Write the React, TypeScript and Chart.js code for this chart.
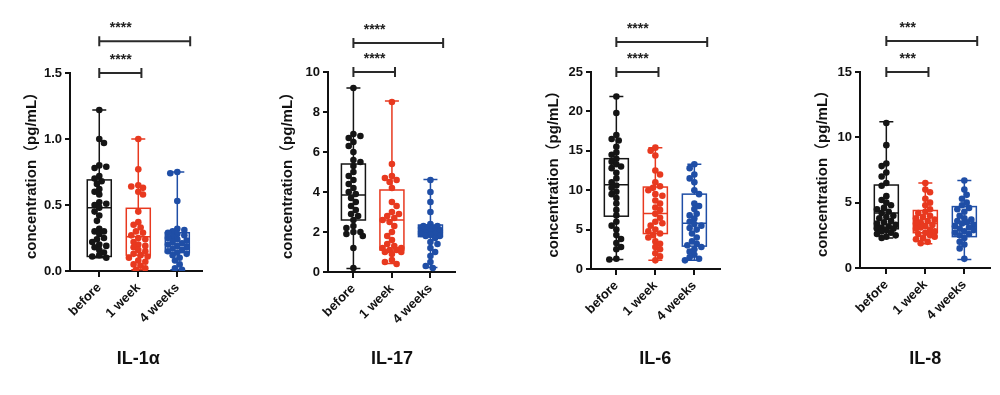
import React, { useEffect, useRef } from "react";
import { Chart, registerables } from "chart.js";
Chart.register(...registerables);

// ---------- data ----------
const groups = ["before", "1 week", "4 weeks"];
const panelTitles = ["IL-1α", "IL-17", "IL-6", "IL-8"];
const yTitle = "concentration（pg/mL）";
const yMax = [1.5, 10, 25, 15];
const yStep = [0.5, 2, 5, 5];
const yDecimals = [1, 0, 0, 0];
const sigLabels = [["****", "****"], ["****", "****"], ["****", "****"], ["***", "***"]];
const bracketLevels = [[1.5, 1.74], [10, 11.45], [25, 28.8], [15, 17.37]];
const bracketEnds = [1.08, 2.33];

// IL-1α
const il1aBefore = [1.22, 1.0, 0.97, 0.8, 0.79, 0.78, 0.72, 0.7, 0.68, 0.66, 0.62, 0.6, 0.58, 0.52, 0.51, 0.5, 0.48, 0.45, 0.42, 0.38, 0.32, 0.3, 0.3, 0.28, 0.25, 0.24, 0.22, 0.2, 0.19, 0.18, 0.16, 0.14, 0.12, 0.11, 0.1];
const il1aWeek1 = [1.0, 0.77, 0.65, 0.64, 0.63, 0.6, 0.58, 0.45, 0.37, 0.35, 0.33, 0.3, 0.29, 0.27, 0.25, 0.24, 0.22, 0.2, 0.19, 0.18, 0.16, 0.15, 0.13, 0.12, 0.11, 0.1, 0.08, 0.07, 0.05, 0.04, 0.02, 0.01];
const il1aWeek4 = [0.75, 0.74, 0.53, 0.32, 0.31, 0.3, 0.29, 0.28, 0.27, 0.26, 0.25, 0.24, 0.23, 0.22, 0.21, 0.2, 0.19, 0.18, 0.17, 0.16, 0.15, 0.14, 0.13, 0.12, 0.1, 0.08, 0.05, 0.02, 0.01];
const il1aStats = [[0.1, 0.11, 0.48, 0.69, 1.22], [0.01, 0.12, 0.26, 0.475, 1.0], [0.01, 0.14, 0.2, 0.29, 0.75]];

// IL-17
const il17Before = [9.2, 6.9, 6.8, 6.7, 6.5, 6.3, 6.0, 5.6, 5.5, 5.3, 5.0, 4.8, 4.6, 4.4, 4.2, 4.0, 3.9, 3.7, 3.5, 3.3, 3.1, 2.9, 2.8, 2.6, 2.3, 2.2, 2.0, 2.0, 1.9, 1.8, 1.2, 0.2];
const il17Week1 = [8.5, 5.4, 4.8, 4.7, 4.6, 4.5, 4.2, 3.5, 3.3, 3.0, 2.9, 2.8, 2.7, 2.6, 2.5, 2.3, 2.0, 1.8, 1.6, 1.4, 1.3, 1.2, 1.2, 1.1, 1.1, 1.0, 1.0, 0.9, 0.6, 0.5, 0.4];
const il17Week4 = [4.6, 4.0, 3.5, 3.0, 2.4, 2.3, 2.3, 2.25, 2.2, 2.2, 2.1, 2.1, 2.05, 2.0, 2.0, 2.0, 1.95, 1.9, 1.9, 1.85, 1.8, 1.8, 1.7, 1.5, 1.4, 1.2, 1.0, 0.8, 0.5, 0.3, 0.2];
const il17Stats = [[0.18, 2.6, 3.85, 5.4, 9.2], [0.43, 1.1, 2.6, 4.1, 8.55], [0.23, 1.77, 2.0, 2.35, 4.63]];

// IL-6
const il6Before = [21.9, 19.8, 17.0, 16.5, 16.3, 15.5, 14.8, 14.5, 14.0, 13.6, 13.3, 13.0, 12.8, 12.2, 11.5, 11.0, 10.6, 10.3, 9.8, 9.5, 9.0, 8.3, 7.5, 6.8, 6.0, 5.5, 5.0, 4.3, 3.8, 3.3, 2.8, 2.5, 1.3, 1.2];
const il6Week1 = [15.4, 15.0, 14.4, 12.5, 12.0, 11.0, 10.5, 10.3, 10.0, 9.5, 9.3, 8.7, 8.3, 7.8, 7.5, 7.0, 6.5, 6.0, 5.8, 5.5, 5.0, 4.8, 4.5, 4.3, 4.0, 3.5, 3.2, 2.8, 2.5, 2.0, 1.6, 1.1];
const il6Week4 = [13.3, 12.8, 12.0, 11.5, 11.0, 10.0, 9.5, 8.3, 8.0, 7.6, 7.0, 6.8, 6.4, 6.0, 5.7, 5.5, 5.2, 5.0, 4.5, 4.0, 3.5, 3.2, 3.0, 2.8, 2.5, 2.2, 1.8, 1.5, 1.3, 1.1];
const il6Stats = [[1.2, 6.7, 10.7, 14.0, 21.9], [1.1, 4.5, 7.05, 10.4, 15.4], [1.1, 2.9, 5.8, 9.5, 13.3]];

// IL-8
const il8Before = [11.1, 9.4, 8.0, 7.8, 7.3, 7.0, 6.5, 6.3, 5.5, 5.2, 5.0, 4.8, 4.6, 4.5, 4.3, 4.2, 4.0, 3.9, 3.8, 3.6, 3.5, 3.4, 3.3, 3.2, 3.1, 3.0, 3.0, 2.9, 2.8, 2.7, 2.6, 2.5, 2.4, 2.3];
const il8Week1 = [6.5, 6.0, 5.8, 5.3, 5.0, 4.8, 4.5, 4.3, 4.2, 4.0, 3.9, 3.8, 3.7, 3.6, 3.5, 3.4, 3.3, 3.2, 3.1, 3.0, 2.9, 2.8, 2.7, 2.6, 2.5, 2.4, 2.3, 2.2, 2.0, 1.9];
const il8Week4 = [6.7, 6.0, 5.6, 5.3, 5.0, 4.8, 4.6, 4.5, 4.3, 4.0, 3.8, 3.7, 3.6, 3.5, 3.4, 3.3, 3.2, 3.1, 3.0, 2.9, 2.8, 2.7, 2.6, 2.5, 2.3, 2.0, 1.8, 1.5, 0.7];
const il8Stats = [[2.3, 3.0, 4.2, 6.35, 11.2], [1.85, 2.7, 3.4, 4.4, 6.5], [0.66, 2.4, 3.4, 4.7, 6.7]];

const panelPoints = [
  [il1aBefore, il1aWeek1, il1aWeek4],
  [il17Before, il17Week1, il17Week4],
  [il6Before, il6Week1, il6Week4],
  [il8Before, il8Week1, il8Week4],
];
const panelStats = [il1aStats, il17Stats, il6Stats, il8Stats];

// ---------- style / layout ----------
const colors = ["#151515", "#e8391f", "#1f4ea6"];
const FONT = "'Liberation Sans', Arial, 'Noto Sans CJK SC', sans-serif";
const H = 395;
const layouts = [
  { left: 23, axisX: 70, right: 205, top: 73, bottom: 271, xMin: -0.75, xMax: 2.625 },
  { left: 279, axisX: 328, right: 458, top: 72, bottom: 272, xMin: -0.66, xMax: 2.63 },
  { left: 545, axisX: 591, right: 723, top: 72, bottom: 269, xMin: -0.65, xMax: 2.65 },
  { left: 814, axisX: 860, right: 993, top: 72, bottom: 268, xMin: -0.675, xMax: 2.65 },
];
const R = 3.3;

function swarm(values: number[], pxPerY: number) {
  const idx = values.map((_, i) => i).sort((a, b) => values[b] - values[a]);
  const placed: { x: number; y: number }[] = [];
  const offs = new Array(values.length).fill(0);
  const step = 2.4, maxOff = 11, minD = R * 1.6;
  const nk = Math.floor(maxOff / step) * 2;
  idx.forEach((i, n) => {
    const y = values[i] * pxPerY;
    let best = 0, bestScore = Infinity;
    const sgn = n % 2 === 0 ? 1 : -1;
    for (let k = 0; k <= nk; k++) {
      const o = (k % 2 === 1 ? sgn : -sgn) * Math.ceil(k / 2) * step;
      let overlap = 0;
      for (const p of placed) {
        const d = Math.hypot(p.x - o, p.y - y);
        if (d < minD) overlap += minD - d;
      }
      if (overlap === 0) { best = o; bestScore = 0; break; }
      if (overlap < bestScore) { bestScore = overlap; best = o; }
    }
    offs[i] = best;
    placed.push({ x: best, y });
  });
  return offs;
}

function Panel({ p }: { p: number }) {
  const ref = useRef<HTMLCanvasElement>(null);
  const L = layouts[p];
  const W = L.right - L.left;
  useEffect(() => {
    if (!ref.current) return;
    const pxX = (L.right - L.axisX) / (L.xMax - L.xMin);
    const pxY = (L.bottom - L.top) / yMax[p];
    const stats = panelStats[p];
    const plugin = {
      id: "boxes" + p,
      beforeDatasetsDraw(chart: any) {
        const { ctx, scales } = chart;
        const x = scales.x, y = scales.y;
        stats.forEach((s: number[], gi: number) => {
          const cx = x.getPixelForValue(gi);
          const [mn, q1, md, q3, mx] = s.map((v) => y.getPixelForValue(v));
          ctx.save();
          ctx.strokeStyle = colors[gi];
          ctx.lineWidth = 1.5;
          ctx.strokeRect(cx - 12, q3, 24, q1 - q3);
          ctx.beginPath();
          ctx.moveTo(cx - 12, md); ctx.lineTo(cx + 12, md);
          ctx.moveTo(cx, q3); ctx.lineTo(cx, mx);
          ctx.moveTo(cx, q1); ctx.lineTo(cx, mn);
          ctx.moveTo(cx - 7, mx); ctx.lineTo(cx + 7, mx);
          ctx.moveTo(cx - 7, mn); ctx.lineTo(cx + 7, mn);
          ctx.stroke();
          ctx.restore();
        });
      },
      afterDraw(chart: any) {
        const { ctx, scales } = chart;
        const x = scales.x, y = scales.y;
        ctx.save();
        ctx.strokeStyle = "#2a2a2a";
        ctx.fillStyle = "#222";
        ctx.lineWidth = 2;
        const x0 = x.getPixelForValue(0);
        bracketLevels[p].forEach((lv, bi) => {
          const by = y.getPixelForValue(lv);
          const x1 = x.getPixelForValue(bracketEnds[bi]);
          ctx.beginPath();
          ctx.moveTo(x0, by); ctx.lineTo(x1, by);
          ctx.moveTo(x0, by - 5); ctx.lineTo(x0, by + 5);
          ctx.moveTo(x1, by - 5); ctx.lineTo(x1, by + 5);
          ctx.stroke();
          ctx.font = "bold 14px " + FONT;
          ctx.textAlign = "center";
          ctx.textBaseline = "middle";
          ctx.fillText(sigLabels[p][bi], x.getPixelForValue(0.55), by - 13);
        });
        ctx.fillStyle = "#111";
        ctx.font = "bold 18px " + FONT;
        ctx.textAlign = "center";
        ctx.textBaseline = "middle";
        ctx.fillText(panelTitles[p], x.getPixelForValue(1), 359);
        ctx.restore();
      },
    };
    const datasets = panelPoints[p].map((vals, gi) => {
      const offs = swarm(vals, pxY);
      return {
        label: groups[gi],
        data: vals.map((v, j) => ({ x: gi + offs[j] / pxX, y: v })),
        backgroundColor: colors[gi],
        borderColor: colors[gi],
        borderWidth: 0,
        pointRadius: R,
        pointHoverRadius: R,
      };
    });
    const tickFont = { family: FONT, size: 13, weight: "bold" as const };
    const chart = new Chart(ref.current, {
      type: "scatter",
      data: { datasets },
      options: {
        animation: false,
        responsive: false,
        events: [],
        layout: { padding: { left: 0, right: 0, top: L.top, bottom: 0 } },
        plugins: { legend: { display: false }, tooltip: { enabled: false }, title: { display: false } },
        scales: {
          x: {
            type: "linear",
            min: L.xMin,
            max: L.xMax,
            afterBuildTicks: (s: any) => { s.ticks = [0, 1, 2].map((v) => ({ value: v })); },
            afterFit: (s: any) => { s.height = H - L.bottom; },
            ticks: {
              callback: (v: any) => groups[v as number],
              minRotation: 45,
              maxRotation: 45,
              autoSkip: false,
              font: tickFont,
              color: "#111",
              padding: 3,
            },
            grid: { drawOnChartArea: false, drawTicks: true, tickLength: 6, color: "#111", lineWidth: 2 },
            border: { color: "#111", width: 2 },
          },
          y: {
            type: "linear",
            min: 0,
            max: yMax[p],
            afterFit: (s: any) => { s.width = L.axisX - L.left; },
            ticks: {
              stepSize: yStep[p],
              callback: (v: any) => Number(v).toFixed(yDecimals[p]),
              font: tickFont,
              color: "#111",
              padding: 3,
            },
            grid: { drawOnChartArea: false, drawTicks: true, tickLength: 5, color: "#111", lineWidth: 2 },
            border: { color: "#111", width: 2 },
            title: {
              display: true,
              text: yTitle,
              font: { family: FONT, size: 15, weight: "bold" },
              color: "#111",
              padding: 0,
            },
          },
        },
      },
      plugins: [plugin],
    } as any);
    return () => chart.destroy();
  }, [p]);
  return (
    <canvas
      ref={ref}
      width={W}
      height={H}
      style={{ position: "absolute", left: L.left, top: 0, width: W, height: H }}
    />
  );
}

export default function App() {
  return (
    <div style={{ position: "absolute", left: 0, top: 0, width: 1000, height: H, background: "#fff", overflow: "hidden" }}>
      {layouts.map((_, p) => (
        <Panel key={p} p={p} />
      ))}
    </div>
  );
}
